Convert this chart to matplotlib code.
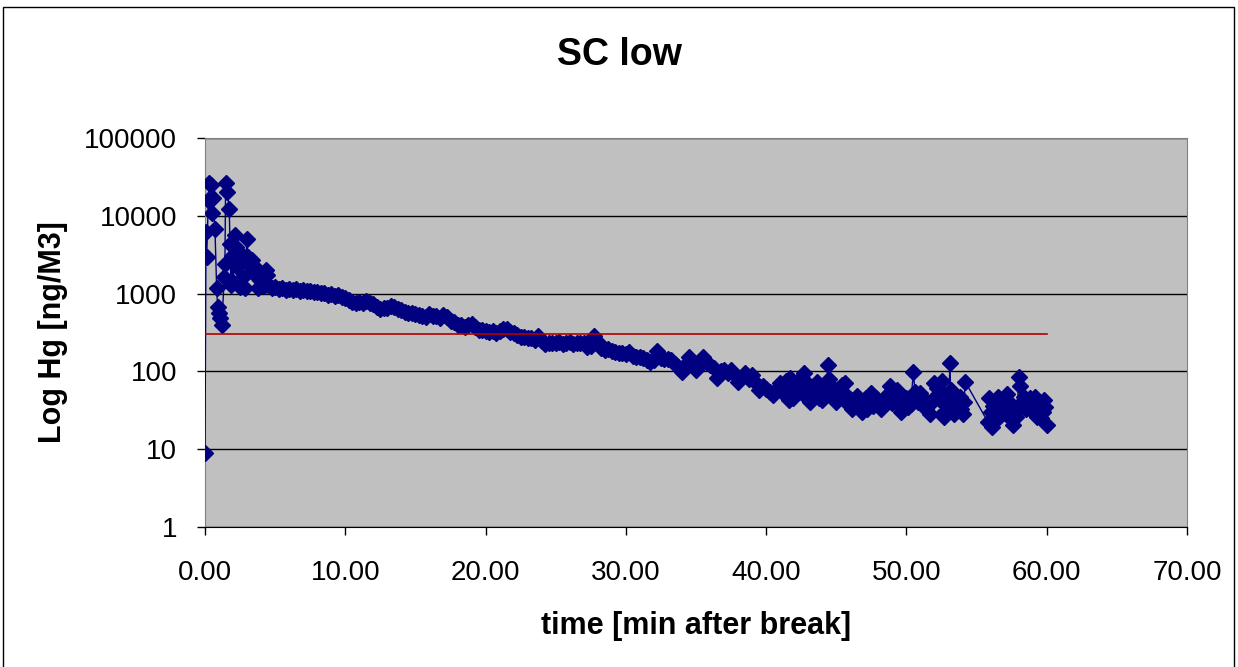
import matplotlib.pyplot as plt
from matplotlib.ticker import FixedLocator, FuncFormatter, NullLocator
from matplotlib.patches import Rectangle

# time after break [min] and Hg concentration [ng/M3]
t_start = [0.00, 0.07, 0.12, 0.24, 0.29, 0.43, 0.48, 0.57, 0.71, 0.83, 0.90, 1.00,
           1.07, 1.19, 1.38, 1.42, 1.47, 1.59, 1.73, 1.78, 1.85, 1.90, 2.00, 2.14,
           2.21, 2.26, 2.37, 2.49, 2.62, 2.73, 2.85, 2.97, 3.09, 3.20, 3.33, 3.44,
           3.56, 3.68, 3.80, 3.92, 4.05, 4.20, 4.35, 4.40]
hg_start = [9, 6200, 2950, 16000, 26700, 25000, 11000, 17000, 6800, 1180, 680, 560,
            480, 390, 1650, 2400, 26500, 20500, 12300, 4300, 1290, 3000, 1400, 5700,
            4000, 2200, 2560, 1230, 3100, 1650, 1170, 5000, 2950, 2400, 2700, 2000,
            2200, 1650, 1170, 1500, 1300, 1250, 2000, 1730]

t_mid = [4.50, 4.75, 5.00, 5.25, 5.50, 5.75, 6.00, 6.25, 6.50, 6.75,
         7.00, 7.25, 7.50, 7.75, 8.00, 8.25, 8.50, 8.75, 9.00, 9.25,
         9.50, 9.75, 10.00, 10.25, 10.50, 10.75, 11.00, 11.25, 11.50, 11.75,
         12.00, 12.25, 12.50, 12.75, 13.00, 13.25, 13.50, 13.75, 14.00, 14.25,
         14.50, 14.75, 15.00, 15.25, 15.50, 15.75, 16.00, 16.25, 16.50, 16.75,
         17.00, 17.25, 17.50, 17.75, 18.00, 18.25, 18.50, 18.75, 19.00, 19.25,
         19.50, 19.75, 20.00, 20.25, 20.50, 20.75, 21.00, 21.25, 21.50, 21.75,
         22.00, 22.25, 22.50, 22.75, 23.00, 23.25, 23.50, 23.75, 24.00, 24.25,
         24.50, 24.75, 25.00, 25.25, 25.50, 25.75, 26.00, 26.25, 26.50, 26.75,
         27.00, 27.25, 27.50, 27.75, 28.00, 28.25, 28.50, 28.75, 29.00, 29.25,
         29.50, 29.75, 30.00, 30.25, 30.50, 30.75, 31.00, 31.25, 31.50, 31.75,
         32.00, 32.25, 32.50, 32.75, 33.00, 33.25, 33.50, 33.75, 34.00, 34.25,
         34.50, 34.75, 35.00, 35.25, 35.50, 35.75, 36.00, 36.25, 36.50, 36.75,
         37.00, 37.25, 37.50, 37.75, 38.00, 38.25, 38.50, 38.75, 39.00, 39.25,
         39.50, 39.75, 40.00, 40.25, 40.50, 40.75]
hg_mid = [1300, 1180, 1220, 1150, 1190, 1120, 1140, 1100, 1130, 1090,
          1110, 1070, 1090, 1040, 1060, 1010, 1030, 970, 990, 940,
          960, 900, 880, 830, 770, 750, 790, 760, 800, 760,
          740, 680, 640, 650, 660, 690, 680, 640, 620, 580,
          560, 570, 540, 530, 520, 500, 545, 520, 510, 480,
          530, 500, 440, 430, 400, 390, 375, 400, 410, 370,
          340, 345, 330, 320, 330, 310, 335, 350, 355, 320,
          310, 290, 280, 275, 265, 270, 250, 285, 245, 225,
          230, 235, 230, 240, 225, 235, 240, 225, 235, 230,
          230, 205, 215, 285, 240, 200, 190, 195, 185, 175,
          170, 172, 165, 175, 160, 155, 155, 150, 140, 133,
          140, 184, 150, 145, 145, 140, 125, 115, 99, 120,
          155, 130, 104, 125, 155, 130, 120, 110, 82, 100,
          104, 95, 104, 90, 73, 85, 94, 80, 90, 70,
          58, 65, 60, 55, 50, 60]

t_end = [41.0, 41.15, 41.3, 41.45, 41.6, 41.7, 41.8, 41.9, 42.05, 42.2, 42.35,
         42.5, 42.6, 42.7, 42.8, 42.9, 43.0, 43.1, 43.2, 43.3, 43.45, 43.6, 43.7,
         43.8, 43.9, 44.0, 44.15, 44.3, 44.4, 44.5, 44.65, 44.8, 44.9, 45.0, 45.15,
         45.3, 45.4, 45.5, 45.6, 45.7, 45.8, 45.95, 46.1, 46.2, 46.3, 46.45, 46.6,
         46.7, 46.8, 46.95, 47.1, 47.2, 47.3, 47.4, 47.5, 47.6, 47.7, 47.8, 47.95,
         48.1, 48.2, 48.35, 48.5, 48.65, 48.8, 48.9, 49.0, 49.15, 49.3, 49.45, 49.6,
         49.7, 49.8, 49.95, 50.1, 50.3, 50.5, 50.6, 50.7, 50.85, 51.0, 51.2, 51.4,
         51.55, 51.7, 51.85, 52.0, 52.1, 52.2, 52.35, 52.5, 52.6, 52.7, 52.8, 52.9,
         53.0, 53.1, 53.15, 53.3, 53.4, 53.55, 53.7, 53.8, 53.9, 54.0, 54.1, 54.2,
         55.8, 55.9, 56.0, 56.1, 56.2, 56.3, 56.4, 56.5, 56.6, 56.7, 56.85, 57.0,
         57.1, 57.2, 57.3, 57.4, 57.5, 57.6, 57.7, 57.8, 57.9, 58.0, 58.1, 58.25,
         58.4, 58.5, 58.6, 58.8, 58.9, 59.0, 59.1, 59.2, 59.3, 59.45, 59.6, 59.7,
         59.8, 59.9, 60.0]
hg_end = [70, 55, 60, 75, 43, 82, 60, 45, 50, 64, 72,
          82, 58, 95, 48, 70, 62, 41, 47, 55, 66, 73, 52,
          45, 60, 43, 48, 60, 121, 81, 65, 52, 44, 41, 60,
          55, 66, 48, 70, 40, 47, 44, 33, 36, 38, 48, 41,
          35, 30, 40, 45, 33, 38, 44, 52, 36, 39, 45, 42,
          38, 33, 40, 45, 50, 64, 46, 39, 42, 58, 48, 30,
          36, 42, 46, 35, 38, 99, 55, 43, 40, 52, 45, 33,
          38, 28, 40, 70, 48, 61, 44, 76, 29, 26, 37, 50,
          34, 127, 58, 47, 28, 36, 43, 47, 33, 28, 40, 73,
          22.5, 45, 30, 19.5, 36, 24, 30, 47, 26, 37, 40, 29,
          35, 51, 40, 29, 24, 20.5, 33, 26, 30, 85, 64, 40,
          47, 33, 39, 45, 32, 35, 40, 47, 26, 30, 25, 30,
          43, 35, 20.5]

time_min = t_start + t_mid + t_end
hg = hg_start + hg_mid + hg_end

# reference level
ref_t = [0, 60]
ref_hg = [300, 300]

x_ticks = [0, 10, 20, 30, 40, 50, 60, 70]
y_ticks = [1, 10, 100, 1000, 10000, 100000]

plt.rcParams['font.family'] = ['Liberation Sans', 'DejaVu Sans']

fig = plt.figure(figsize=(12.38, 6.67), dpi=100)
ax = fig.add_axes([205 / 1238, 1 - 527 / 667, (1187 - 205) / 1238, (527 - 138) / 667])
ax.set_facecolor('#c0c0c0')

# outer chart border
fig.patches.append(Rectangle((3 / 1238, -0.01), 1231 / 1238, 1 - 7 / 667 + 0.01,
                             transform=fig.transFigure, fill=False,
                             edgecolor='black', linewidth=1))

ax.plot(time_min, hg, color='#000080', linewidth=1, marker='D', markersize=8,
        markeredgecolor='#000080', markerfacecolor='#000080', zorder=3)
ax.plot(ref_t, ref_hg, color='#b00000', linewidth=1.2, zorder=4)

ax.set_yscale('log')
ax.set_xlim(0, 70)
ax.set_ylim(1, 100000)
ax.yaxis.set_major_locator(FixedLocator(y_ticks))
ax.yaxis.set_minor_locator(NullLocator())
ax.yaxis.set_major_formatter(FuncFormatter(lambda v, p: '%d' % round(v)))
ax.xaxis.set_major_locator(FixedLocator(x_ticks))
ax.xaxis.set_major_formatter(FuncFormatter(lambda v, p: '%.2f' % v))

ax.grid(axis='y', color='black', linewidth=1, zorder=1)
ax.set_axisbelow(True)

for side in ['top', 'right', 'left']:
    ax.spines[side].set_color('#808080')
ax.spines['bottom'].set_color('black')

ax.tick_params(axis='y', direction='out', length=6, width=1, pad=14, labelsize=20)
ax.tick_params(axis='x', direction='out', length=6, width=1, pad=18, labelsize=20)

fig.text(0.5, 1 - 55 / 667, 'SC low', fontsize=27, fontweight='bold',
         ha='center', va='center')
ax.set_xlabel('time [min after break]', fontsize=22, fontweight='bold', labelpad=18)
ax.set_ylabel('Log Hg [ng/M3]', fontsize=22, fontweight='bold', labelpad=12)

fig.savefig('out.png', dpi=100)
